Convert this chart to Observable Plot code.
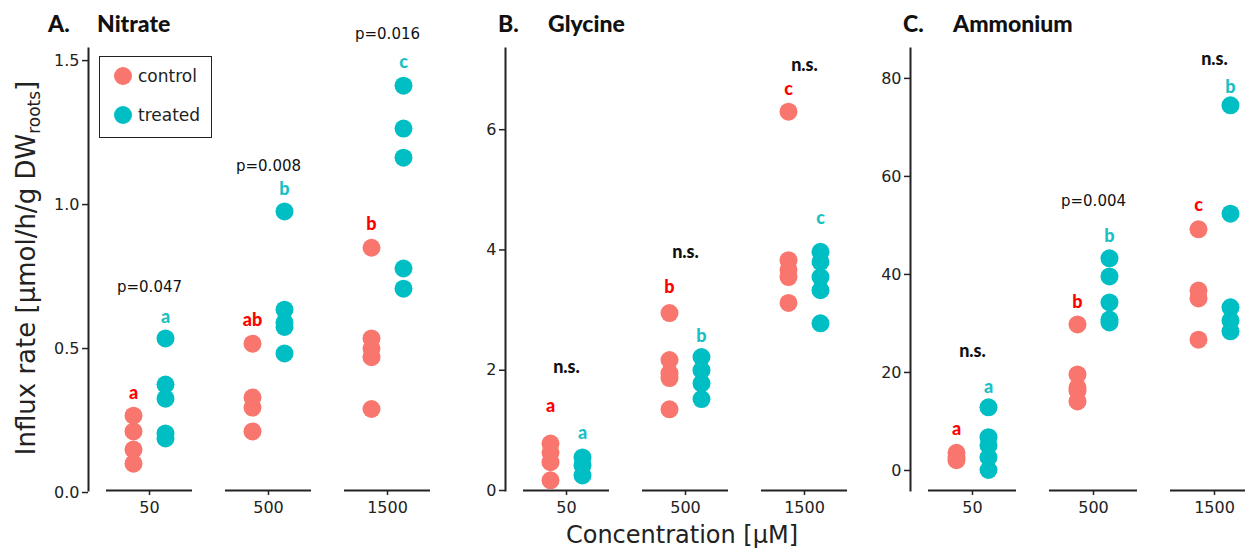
<!DOCTYPE html>
<html><head><meta charset="utf-8">
<script src="https://cdn.jsdelivr.net/npm/d3@7"></script>
<script src="https://cdn.jsdelivr.net/npm/@observablehq/plot@0.6"></script>
<style>
body{margin:0;background:#fff;}
#chart{position:relative;width:1245px;height:549px;overflow:hidden;background:#fff;font-family:"DejaVu Sans";color:#222;}
.panel{position:absolute;top:0;}
.ttl{position:absolute;top:12px;font-family:Lato;font-weight:900;font-size:23px;line-height:23px;color:#111;white-space:nowrap;}
.legend{position:absolute;left:99px;top:56px;width:113px;height:82px;box-sizing:border-box;border:1.5px solid #222;}
.lg-item{position:absolute;left:14px;height:20px;display:flex;align-items:center;font-size:17px;color:#222;}
.lg-dot{width:18px;height:18px;border-radius:50%;margin-right:6px;}
.ylab{position:absolute;left:27px;top:268px;width:0;height:0;}
.ylab div{position:absolute;left:0;top:0;transform:translate(-50%,-50%) rotate(-90deg);white-space:nowrap;font-size:26px;color:#222;}
.xlab{position:absolute;left:682px;top:535px;transform:translate(-50%,-50%);white-space:nowrap;font-size:24px;color:#222;}
</style></head>
<body><div id="chart"></div>
<script>
// ---- categories ----
const concentrations = ["50", "500", "1500"];
const treatments = ["control", "treated"];
const panelLetters = ["A.", "B.", "C."];
const panelNames = ["Nitrate", "Glycine", "Ammonium"];
const treatmentColors = ["#F8766D", "#00BFC4"];
const letterColors = ["#FF0000", "#1BBFC3"];

// ---- A. Nitrate (µmol/h/g DW roots) ----
const nitrateControl = [[0.267, 0.212, 0.149, 0.100], [0.517, 0.330, 0.295, 0.212], [0.850, 0.535, 0.500, 0.470, 0.290]];
const nitrateTreated = [[0.535, 0.375, 0.326, 0.205, 0.188], [0.976, 0.635, 0.590, 0.575, 0.483], [1.413, 1.264, 1.163, 0.778, 0.708]];
const nitrateLettersControl = ["a", "ab", "b"];
const nitrateLettersTreated = ["a", "b", "c"];
const nitrateLetterYControl = [0.344, 0.597, 0.931];
const nitrateLetterYTreated = [0.608, 1.052, 1.493];
const nitratePLabels = ["p=0.047", "p=0.008", "p=0.016"];
const nitratePY = [0.712, 1.135, 1.590];
const nitrateTicks = [0, 0.5, 1.0, 1.5];

// ---- B. Glycine ----
const glycineControl = [[0.78, 0.63, 0.47, 0.17], [2.95, 2.17, 1.95, 1.87, 1.35], [6.30, 3.83, 3.67, 3.55, 3.12]];
const glycineTreated = [[0.55, 0.42, 0.25], [2.22, 2.00, 1.78, 1.52], [3.97, 3.80, 3.55, 3.33, 2.78]];
const glycineLettersControl = ["a", "b", "c"];
const glycineLettersTreated = ["a", "b", "c"];
const glycineLetterYControl = [1.40, 3.38, 6.68];
const glycineLetterYTreated = [0.95, 2.57, 4.53];
const glycinePLabels = ["n.s.", "n.s.", "n.s."];
const glycinePY = [2.05, 3.97, 7.08];
const glycineTicks = [0, 2, 4, 6];

// ---- C. Ammonium ----
const ammoniumControl = [[3.6, 2.8, 2.1], [29.8, 19.6, 16.9, 16.2, 14.1], [49.2, 36.7, 35.1, 26.7]];
const ammoniumTreated = [[12.9, 6.8, 5.1, 2.7, 0.1], [43.3, 39.6, 34.3, 30.8, 30.2], [74.5, 52.4, 33.3, 30.6, 28.4]];
const ammoniumLettersControl = ["a", "b", "c"];
const ammoniumLettersTreated = ["a", "b", "b"];
const ammoniumLetterYControl = [8.4, 34.3, 54.1];
const ammoniumLetterYTreated = [16.9, 47.8, 78.2];
const ammoniumPLabels = ["n.s.", "p=0.004", "n.s."];
const ammoniumPY = [24.3, 54.9, 83.9];
const ammoniumTicks = [0, 20, 40, 60, 80];

// ---- build tables ----
function pointRows(ctrl, trt) {
  const rows = [];
  concentrations.forEach((c, i) => {
    ctrl[i].forEach(v => rows.push({conc: c, trt: treatments[0], v}));
    trt[i].forEach(v => rows.push({conc: c, trt: treatments[1], v}));
  });
  return rows;
}
function letterRows(labels, ys) {
  return concentrations.map((c, i) => ({conc: c, label: labels[i], y: ys[i]}));
}

const panels = [
  {left: 0, ml: 88, plotW: 361, yDomain: [0.007, 1.542], ticks: nitrateTicks, fmt: d3.format(".1f"),
   points: pointRows(nitrateControl, nitrateTreated),
   lc: letterRows(nitrateLettersControl, nitrateLetterYControl),
   lt: letterRows(nitrateLettersTreated, nitrateLetterYTreated),
   p: letterRows(nitratePLabels, nitratePY)},
  {left: 420, ml: 85, plotW: 361, yDomain: [0, 7.35], ticks: glycineTicks, fmt: d3.format("d"),
   points: pointRows(glycineControl, glycineTreated),
   lc: letterRows(glycineLettersControl, glycineLetterYControl),
   lt: letterRows(glycineLettersTreated, glycineLetterYTreated),
   p: letterRows(glycinePLabels, glycinePY)},
  {left: 840, ml: 70, plotW: 365.6, yDomain: [-4.08, 86.1], ticks: ammoniumTicks, fmt: d3.format("d"),
   points: pointRows(ammoniumControl, ammoniumTreated),
   lc: letterRows(ammoniumLettersControl, ammoniumLetterYControl),
   lt: letterRows(ammoniumLettersTreated, ammoniumLetterYTreated),
   p: letterRows(ammoniumPLabels, ammoniumPY)}
];

const chart = document.getElementById("chart");
const OFF = 16;

panels.forEach((cfg, k) => {
  const W = cfg.ml + cfg.plotW + 20;
  const svg = Plot.plot({
    width: W, height: 549,
    marginLeft: cfg.ml, marginRight: W - cfg.ml - cfg.plotW, marginTop: 48, marginBottom: 59,
    style: {fontFamily: "DejaVu Sans", fontSize: "16px", color: "#222", background: "transparent", overflow: "visible", maxWidth: "none"},
    x: {type: "band", domain: concentrations, paddingInner: 0.275, paddingOuter: 0.142},
    y: {domain: cfg.yDomain},
    color: {domain: treatments, range: treatmentColors},
    marks: [
      Plot.frame({anchor: "left", stroke: "#222", strokeWidth: 2}),
      Plot.tickY(concentrations, {x: d => d, y: () => cfg.yDomain[0], stroke: "#222", strokeWidth: 2}),
      Plot.axisX({tickSize: 5, tickPadding: 6, label: null, fontSize: 16, strokeWidth: 1.5}),
      Plot.axisY({ticks: cfg.ticks, tickFormat: cfg.fmt, tickSize: 6, tickPadding: 3, label: null, fontSize: 16, strokeWidth: 1.5}),
      Plot.dot(cfg.points.filter(d => d.trt === treatments[0]), {x: "conc", y: "v", r: 9, fill: "trt", dx: -OFF}),
      Plot.dot(cfg.points.filter(d => d.trt === treatments[1]), {x: "conc", y: "v", r: 9, fill: "trt", dx: OFF}),
      Plot.text(cfg.lc, {x: "conc", y: "y", text: "label", dx: -OFF, fill: letterColors[0], fontFamily: "Lato", fontWeight: "900", fontSize: 18}),
      Plot.text(cfg.lt, {x: "conc", y: "y", text: "label", dx: OFF, fill: letterColors[1], fontFamily: "Lato", fontWeight: "900", fontSize: 18}),
      Plot.text(cfg.p.filter(d => d.label === "n.s."), {x: "conc", y: "y", text: "label", fill: "#111", fontFamily: "Lato", fontWeight: "900", fontSize: 18}),
      Plot.text(cfg.p.filter(d => d.label !== "n.s."), {x: "conc", y: "y", text: "label", fill: "#111", fontFamily: "DejaVu Sans", fontSize: 15})
    ]
  });
  const wrap = document.createElement("div");
  wrap.className = "panel";
  wrap.style.left = cfg.left + "px";
  wrap.appendChild(svg);
  chart.appendChild(wrap);
});

// panel titles
const titleLeft = [[48, 97], [498, 548], [903, 953]];
panels.forEach((cfg, k) => {
  const a = document.createElement("div");
  a.className = "ttl"; a.style.left = titleLeft[k][0] + "px"; a.textContent = panelLetters[k];
  const b = document.createElement("div");
  b.className = "ttl"; b.style.left = titleLeft[k][1] + "px"; b.textContent = panelNames[k];
  chart.appendChild(a); chart.appendChild(b);
});

// legend
const lg = document.createElement("div");
lg.className = "legend";
treatments.forEach((t, i) => {
  const it = document.createElement("div");
  it.className = "lg-item";
  it.style.top = (i === 0 ? 9 : 48) + "px";
  const dot = document.createElement("span");
  dot.className = "lg-dot"; dot.style.background = treatmentColors[i];
  it.appendChild(dot);
  it.appendChild(document.createTextNode(t));
  lg.appendChild(it);
});
chart.appendChild(lg);

// axis titles
const yl = document.createElement("div");
yl.className = "ylab";
yl.innerHTML = '<div>Influx rate [µmol/h/g DW<sub style="font-size:17px;vertical-align:-5px">roots</sub>]</div>';
chart.appendChild(yl);
const xl = document.createElement("div");
xl.className = "xlab";
xl.textContent = "Concentration [µM]";
chart.appendChild(xl);
</script>
</body></html>
